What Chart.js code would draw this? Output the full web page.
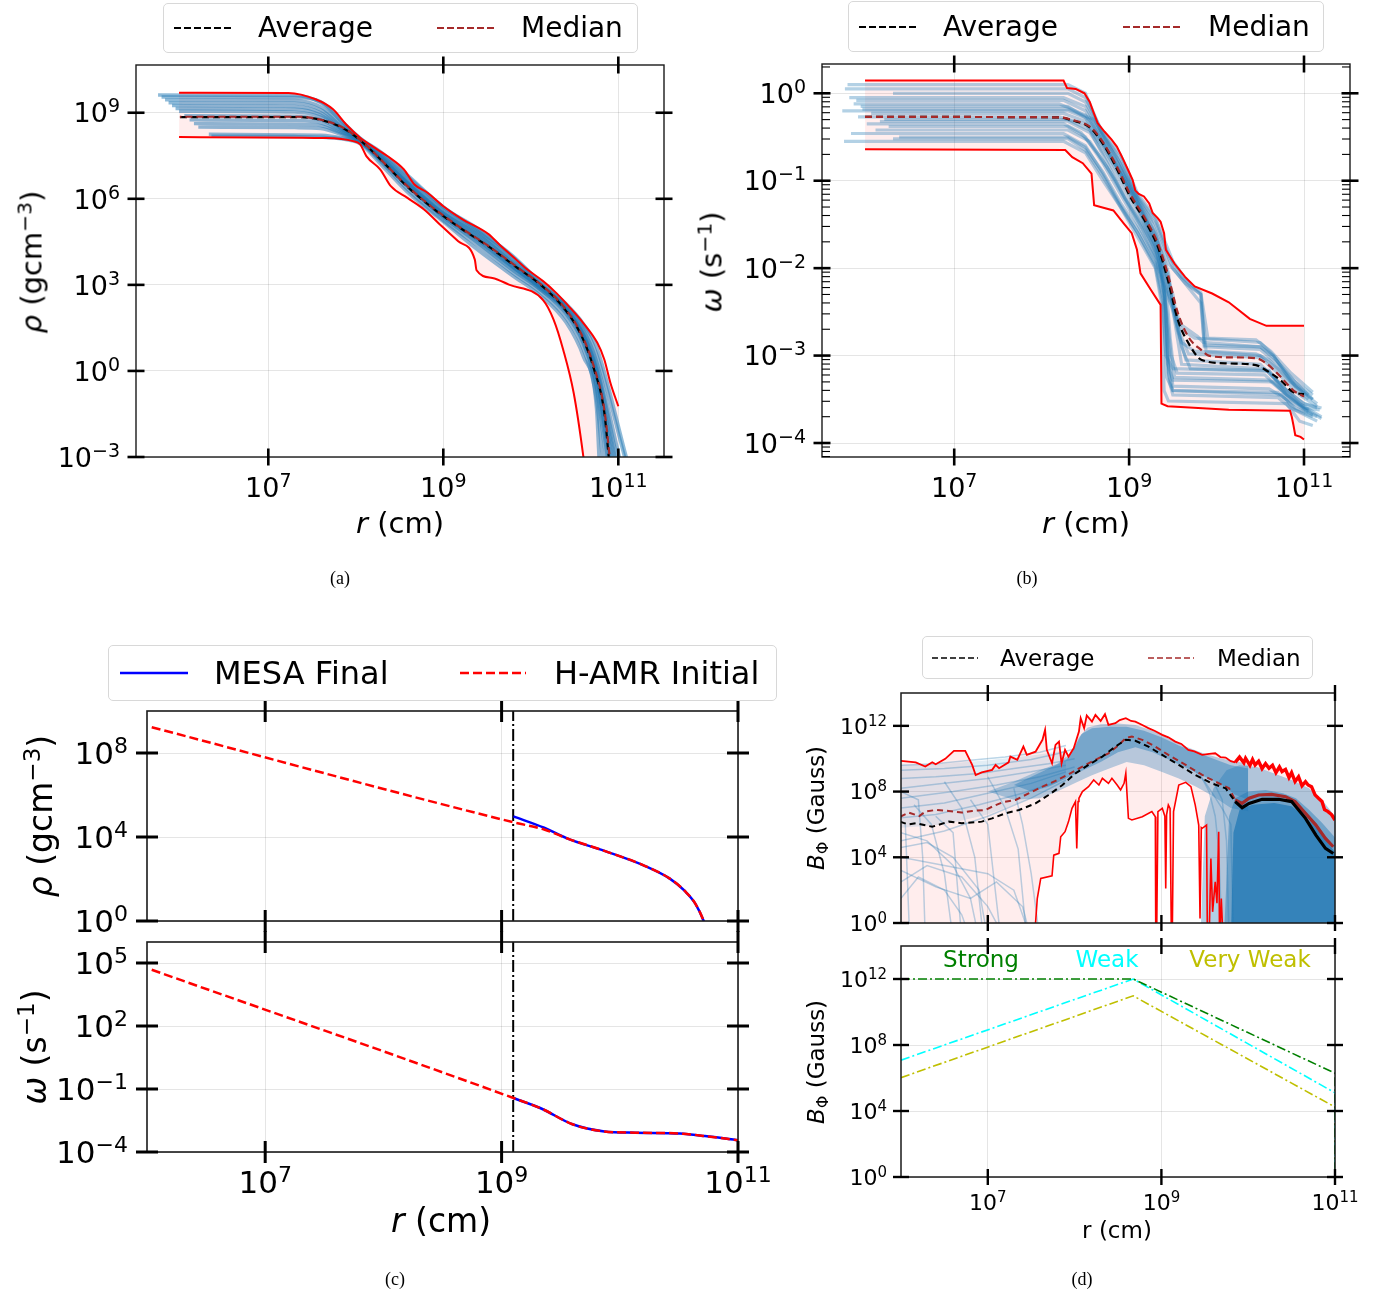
<!DOCTYPE html>
<html>
<head>
<meta charset="utf-8">
<title>Radial profiles</title>
<script src="https://cdn.jsdelivr.net/npm/chart.js@4.4.1/dist/chart.umd.min.js"></script>
<style>
  body { margin: 0; background: #fff; }
  #page { position: relative; width: 1387px; height: 1293px; overflow: hidden; font-family: "DejaVu Sans", sans-serif; color: #000; }
  canvas.layer { position: absolute; left: 0; top: 0; }
  .legend { position: absolute; box-sizing: border-box; border: 1.5px solid #d8d8d8; border-radius: 5px; background: rgba(255,255,255,0.85); z-index: 5; }
  .legend span { position: absolute; top: 50%; transform: translateY(-50%); white-space: nowrap; line-height: 1; }
  .legend svg { position: absolute; top: 50%; transform: translateY(-50%); }
  .lab { position: absolute; white-space: nowrap; line-height: 1; transform: translate(-50%, -50%); z-index: 5; }
  .lab.rot { transform: translate(-50%, -50%) rotate(-90deg); }
  .lab sup { font-size: 0.7em; position: relative; top: -0.5em; vertical-align: baseline; }
  .lab sub { font-size: 0.7em; position: relative; top: 0.25em; vertical-align: baseline; }
</style>
</head>
<body>
<div id="page"></div>
<script>
const W = 1387, H = 1293;
const page = document.getElementById('page');

// all profile values are stored as log10 exponents: [log r, log q]

// ---------- (a) density ----------
const aXTicks = [7, 9, 11];
const aYTicks = [-3, 0, 3, 6, 9];
const aRhoMax = [[5.98,9.70],[7.23,9.69],[7.54,9.47],[7.74,9.12],[7.89,8.59],[8.05,8.13],[8.20,7.81],[8.36,7.49],[8.55,7.02],[8.67,6.50],[8.82,6.21],[9.0,5.74],[9.21,5.30],[9.52,4.76],[9.64,4.41],[9.79,4.0],[9.95,3.56],[10.14,3.13],[10.29,2.72],[10.45,2.20],[10.60,1.67],[10.76,0.98],[10.84,0.40],[10.91,-0.42],[11.0,-1.23]];
const aRhoMin = [[5.98,8.15],[7.66,8.12],[7.97,8.01],[8.05,7.90],[8.12,7.49],[8.28,7.02],[8.40,6.44],[8.59,6.03],[8.78,5.63],[8.98,5.05],[9.17,4.52],[9.36,3.88],[9.38,3.51],[9.56,3.24],[9.75,3.01],[10.14,2.47],[10.26,1.79],[10.37,0.74],[10.49,-0.77],[10.60,-2.98],[10.62,-3.5],[11.0,-4.0]];
const aRhoMed = [[5.99,8.86],[7.35,8.86],[7.66,8.71],[7.89,8.42],[8.12,7.86],[8.36,7.14],[8.59,6.44],[8.86,5.74],[9.17,5.05],[9.52,4.35],[9.83,3.65],[10.14,2.95],[10.37,2.26],[10.57,1.33],[10.72,0.16],[10.84,-1.35],[10.90,-2.98],[10.91,-3.3]];
const aRhoAvg = [[5.99,8.85],[7.35,8.85],[7.66,8.70],[7.89,8.40],[8.12,7.85],[8.36,7.13],[8.59,6.42],[8.86,5.72],[9.17,5.03],[9.52,4.33],[9.83,3.63],[10.14,2.93],[10.37,2.22],[10.57,1.28],[10.72,0.08],[10.84,-1.45],[10.89,-2.98],[10.9,-3.3]];
// individual models: first point, values on a common radius grid, last point
const aBlueStart = [[5.74,9.62],[5.78,9.55],[5.82,9.45],[5.86,9.35],[5.90,9.25],[5.94,9.15],[5.98,9.05],[6.04,8.90],[6.10,8.75],[6.15,8.62],[6.20,8.50],[6.32,8.25],[6.35,8.18]];
const aBlueGrid = [7.3, 7.6, 7.85, 8.05, 8.3, 8.6, 9.0, 9.4, 9.8, 10.1, 10.4, 10.6, 10.75];
const aBlueVals = [
  [9.60, 9.35, 8.65, 8.10, 7.55, 6.75, 5.70, 4.95, 3.95, 3.10, 2.30, 1.60, 0.60],
  [9.53, 9.38, 8.68, 8.12, 7.60, 6.80, 5.72, 4.90, 4.00, 3.12, 2.35, 1.65, 0.85],
  [9.43, 9.20, 8.55, 8.07, 7.50, 6.65, 5.60, 4.85, 3.85, 3.05, 2.25, 1.45, 0.35],
  [9.33, 9.10, 8.50, 8.05, 7.46, 6.60, 5.55, 4.80, 3.80, 3.02, 2.22, 1.38, 0.22],
  [9.22, 9.00, 8.45, 8.04, 7.42, 6.55, 5.50, 4.75, 3.75, 3.00, 2.20, 1.30, 0.10],
  [9.12, 8.92, 8.42, 8.03, 7.40, 6.52, 5.48, 4.70, 3.70, 2.97, 2.17, 1.25, 0.00],
  [9.02, 8.85, 8.40, 8.02, 7.38, 6.50, 5.45, 4.65, 3.65, 2.95, 2.15, 1.20, -0.10],
  [8.88, 8.75, 8.35, 8.01, 7.36, 6.48, 5.42, 4.60, 3.62, 2.92, 2.12, 1.15, -0.20],
  [8.73, 8.65, 8.30, 8.00, 7.34, 6.45, 5.40, 4.55, 3.60, 2.90, 2.10, 1.10, -0.30],
  [8.60, 8.55, 8.26, 7.99, 7.32, 6.42, 5.37, 4.50, 3.55, 2.87, 2.05, 1.02, -0.45],
  [8.48, 8.45, 8.22, 7.98, 7.30, 6.40, 5.35, 4.45, 3.50, 2.85, 2.00, 0.95, -0.60],
  [8.23, 8.22, 8.12, 7.95, 7.25, 6.30, 5.25, 4.35, 3.40, 2.75, 1.85, 0.75, -1.00],
  [8.17, 8.15, 8.08, 7.92, 7.15, 6.20, 5.20, 4.20, 3.30, 2.65, 1.70, 0.50, -1.30]
];
const aBlueEnd = [[11.08,-3.1],[11.10,-3.1],[11.02,-3.1],[10.99,-3.1],[10.97,-3.1],[10.95,-3.1],[10.93,-3.1],[10.91,-3.1],[10.90,-3.1],[10.88,-3.1],[10.86,-3.1],[10.82,-3.1],[10.78,-3.1]];

// ---------- (b) angular velocity ----------
const bXTicks = [7, 9, 11];
const bYTicks = [-4, -3, -2, -1, 0];
const bOmMax = [[5.98,0.145],[8.25,0.145],[8.29,0.06],[8.39,0.05],[8.49,0.0],[8.55,-0.10],[8.59,-0.21],[8.64,-0.34],[8.72,-0.44],[8.80,-0.53],[8.86,-0.61],[8.92,-0.73],[8.99,-0.88],[9.04,-0.99],[9.07,-1.11],[9.11,-1.15],[9.17,-1.18],[9.23,-1.26],[9.27,-1.37],[9.33,-1.43],[9.36,-1.47],[9.40,-1.60],[9.42,-1.79],[9.52,-1.95],[9.64,-2.10],[9.75,-2.21],[9.95,-2.29],[10.14,-2.39],[10.38,-2.58],[10.57,-2.66],[11.0,-2.66]];
const bOmMin = [[5.98,-0.64],[8.27,-0.65],[8.35,-0.73],[8.47,-0.80],[8.57,-0.92],[8.60,-1.28],[8.82,-1.34],[8.94,-1.49],[9.03,-1.60],[9.09,-1.79],[9.13,-2.06],[9.25,-2.25],[9.36,-2.42],[9.37,-3.55],[9.44,-3.58],[10.14,-3.62],[10.84,-3.63],[10.86,-3.70],[10.88,-3.80],[10.90,-3.91],[10.96,-3.93],[11.0,-3.96]];
const bOmMed = [[5.98,-0.27],[8.20,-0.275],[8.35,-0.305],[8.55,-0.38],[8.66,-0.50],[8.78,-0.69],[8.90,-0.92],[9.01,-1.15],[9.17,-1.41],[9.33,-1.72],[9.44,-2.06],[9.56,-2.52],[9.68,-2.79],[9.83,-2.94],[9.91,-3.0],[10.14,-3.02],[10.45,-3.03],[10.57,-3.09],[10.73,-3.24],[10.88,-3.40],[11.0,-3.47]];
const bOmAvg = [[5.98,-0.27],[8.20,-0.275],[8.35,-0.31],[8.55,-0.39],[8.66,-0.52],[8.78,-0.71],[8.90,-0.95],[9.01,-1.18],[9.17,-1.44],[9.33,-1.76],[9.44,-2.12],[9.56,-2.60],[9.68,-2.86],[9.83,-3.05],[10.14,-3.09],[10.45,-3.11],[10.57,-3.17],[10.73,-3.28],[10.88,-3.42],[11.0,-3.44]];
const bBlue = [
  [[5.75,0.05],[8.3,0.05],[8.5,-0.05],[8.7,-0.45],[8.9,-0.7],[9.1,-1.15],[9.3,-1.42],[9.5,-1.92],[9.7,-2.2],[9.82,-2.3],[9.86,-2.9],[10.5,-2.93],[10.7,-3.1],[10.9,-3.3],[11.1,-3.45]],
  [[5.8,-0.05],[8.25,-0.05],[8.5,-0.15],[8.7,-0.5],[8.9,-0.8],[9.1,-1.2],[9.3,-1.5],[9.5,-2.0],[9.7,-2.25],[9.82,-2.4],[9.86,-2.88],[10.5,-2.9],[10.65,-3.0],[10.9,-3.35],[11.15,-3.55]],
  [[5.85,-0.12],[8.2,-0.12],[8.5,-0.25],[8.7,-0.55],[8.9,-0.88],[9.1,-1.25],[9.3,-1.62],[9.45,-2.1],[9.55,-2.7],[9.65,-3.05],[10.5,-3.1],[10.7,-3.3],[10.95,-3.55],[11.2,-3.7]],
  [[5.72,-0.2],[8.3,-0.2],[8.55,-0.3],[8.75,-0.65],[8.95,-1.0],[9.15,-1.4],[9.35,-1.85],[9.42,-2.4],[9.48,-3.0],[9.55,-3.2],[10.55,-3.22],[10.75,-3.4],[11.0,-3.6],[11.2,-3.72]],
  [[5.9,-0.27],[8.2,-0.27],[8.5,-0.35],[8.7,-0.62],[8.9,-0.95],[9.1,-1.32],[9.3,-1.75],[9.4,-2.2],[9.45,-2.9],[9.5,-3.35],[10.6,-3.38],[10.8,-3.5],[11.05,-3.65]],
  [[6.0,-0.35],[8.25,-0.35],[8.45,-0.45],[8.65,-0.7],[8.85,-1.0],[9.05,-1.35],[9.25,-1.7],[9.4,-2.05],[9.5,-2.5],[9.6,-2.85],[9.75,-2.95],[10.5,-3.0],[10.7,-3.15],[10.9,-3.35],[11.1,-3.5]],
  [[6.1,-0.42],[8.3,-0.42],[8.55,-0.55],[8.75,-0.85],[8.95,-1.2],[9.15,-1.5],[9.35,-1.9],[9.42,-2.5],[9.46,-3.3],[9.5,-3.45],[10.7,-3.48],[10.85,-3.6],[11.15,-3.75]],
  [[6.37,-0.5],[8.3,-0.5],[8.5,-0.62],[8.7,-0.9],[8.9,-1.25],[9.1,-1.55],[9.3,-1.9],[9.45,-2.35],[9.6,-2.7],[9.75,-2.8],[10.5,-2.85],[10.65,-3.0],[10.85,-3.3],[11.05,-3.5]],
  [[5.74,-0.55],[8.25,-0.55],[8.5,-0.68],[8.7,-1.0],[8.9,-1.3],[9.1,-1.65],[9.3,-2.0],[9.37,-2.4],[9.4,-3.4],[9.45,-3.52],[10.8,-3.55],[10.95,-3.75],[11.1,-3.8]],
  [[6.3,0.0],[8.3,0.0],[8.5,-0.1],[8.7,-0.48],[8.85,-0.7],[9.05,-1.12],[9.25,-1.45],[9.45,-1.95],[9.65,-2.18],[9.82,-2.3],[9.88,-2.95],[10.45,-2.98],[10.6,-3.05],[10.85,-3.3],[11.05,-3.45]],
  [[5.95,-0.18],[8.3,-0.18],[8.6,-0.3],[8.8,-0.65],[9.0,-1.05],[9.2,-1.45],[9.35,-1.85],[9.5,-2.3],[9.6,-2.9],[9.7,-3.15],[10.6,-3.17],[10.8,-3.45],[11.0,-3.6],[11.18,-3.62]],
  [[6.2,-0.3],[8.3,-0.3],[8.55,-0.42],[8.75,-0.8],[8.95,-1.2],[9.15,-1.55],[9.32,-1.9],[9.4,-2.3],[9.44,-3.1],[9.5,-3.28],[10.65,-3.3],[10.85,-3.5],[11.1,-3.68]],
  [[5.78,0.1],[8.3,0.1],[8.5,0.0],[8.68,-0.43],[8.9,-0.75],[9.1,-1.18],[9.3,-1.45],[9.45,-1.85],[9.6,-2.1],[9.82,-2.28],[9.9,-2.8],[10.45,-2.82],[10.62,-2.95],[10.85,-3.2],[11.1,-3.42]],
  [[5.88,-0.08],[8.25,-0.08],[8.5,-0.2],[8.7,-0.52],[8.9,-0.85],[9.1,-1.22],[9.3,-1.6],[9.45,-2.05],[9.52,-2.6],[9.6,-3.1],[10.55,-3.15],[10.75,-3.35],[11.0,-3.55],[11.2,-3.6]],
  [[5.93,-0.15],[8.3,-0.15],[8.5,-0.28],[8.72,-0.6],[8.92,-0.95],[9.12,-1.3],[9.32,-1.7],[9.42,-2.15],[9.47,-2.8],[9.52,-3.25],[10.6,-3.28],[10.8,-3.45],[11.05,-3.62]],
  [[6.05,-0.23],[8.25,-0.23],[8.5,-0.32],[8.7,-0.6],[8.9,-0.92],[9.1,-1.28],[9.3,-1.68],[9.45,-2.2],[9.58,-2.75],[9.68,-2.98],[10.5,-3.02],[10.7,-3.2],[10.95,-3.45],[11.15,-3.58]],
  [[6.15,-0.32],[8.3,-0.32],[8.55,-0.45],[8.75,-0.75],[8.95,-1.1],[9.15,-1.45],[9.33,-1.85],[9.41,-2.35],[9.45,-3.2],[9.5,-3.4],[10.7,-3.42],[10.9,-3.6],[11.15,-3.7]],
  [[6.25,-0.38],[8.3,-0.38],[8.5,-0.5],[8.7,-0.8],[8.9,-1.15],[9.1,-1.5],[9.3,-1.88],[9.45,-2.3],[9.6,-2.65],[9.78,-2.78],[9.85,-2.85],[10.5,-2.9],[10.68,-3.05],[10.9,-3.3],[11.1,-3.5]],
  [[5.82,-0.46],[8.25,-0.46],[8.5,-0.6],[8.7,-0.92],[8.9,-1.28],[9.1,-1.6],[9.3,-1.95],[9.39,-2.35],[9.43,-3.25],[9.5,-3.4],[10.75,-3.45],[10.9,-3.62],[11.1,-3.7]],
  [[6.3,-0.52],[8.3,-0.52],[8.5,-0.65],[8.7,-0.95],[8.9,-1.3],[9.1,-1.6],[9.3,-1.98],[9.38,-2.38],[9.42,-3.0],[9.5,-3.15],[10.6,-3.18],[10.8,-3.4],[11.0,-3.55],[11.15,-3.6]]
];

// ---------- (c) MESA final vs H-AMR initial ----------
const cXTicks = [7, 9, 11];
const cRhoTicks = [0, 4, 8];
const cOmTicks = [-4, -1, 2, 5];
const cCut = 9.098;
const cRhoInit = [[6.04,9.23],[9.1,4.70],[9.36,4.36],[9.57,3.9],[9.87,3.34],[10.21,2.63],[10.42,2.03],[10.55,1.43],[10.64,0.82],[10.71,0.0],[10.74,-0.5]];
const cRhoMesa = [[9.1,4.98],[9.36,4.44],[9.57,3.9],[9.87,3.34],[10.21,2.63],[10.42,2.03],[10.55,1.43],[10.64,0.82],[10.71,0.0],[10.74,-0.5]];
const cOmInit = [[6.04,4.68],[9.1,-1.43],[9.34,-1.94],[9.6,-2.68],[9.87,-3.02],[10.13,-3.08],[10.51,-3.12],[10.72,-3.24],[11.0,-3.44]];
const cOmMesa = [[9.1,-1.43],[9.34,-1.94],[9.6,-2.68],[9.87,-3.02],[10.13,-3.08],[10.51,-3.12],[10.72,-3.24],[11.0,-3.44]];

// ---------- (d) toroidal field ----------
const dXTicks = [7, 9, 11];
const dYTicks = [0, 4, 8, 12];
const dBMax = [[5.99,9.87],[6.17,9.78],[6.28,9.52],[6.36,9.78],[6.40,9.66],[6.51,9.99],[6.61,10.48],[6.74,10.48],[6.82,9.62],[6.86,9.01],[6.93,9.17],[7.05,9.32],[7.09,9.62],[7.13,9.42],[7.24,9.78],[7.26,10.13],[7.34,9.93],[7.41,10.74],[7.45,10.23],[7.55,10.43],[7.63,11.15],[7.66,11.76],[7.68,10.54],[7.74,9.72],[7.78,10.84],[7.82,11.04],[7.85,9.72],[7.89,10.54],[7.93,10.13],[7.99,10.64],[8.05,11.65],[8.07,12.47],[8.11,11.86],[8.14,12.63],[8.20,12.26],[8.24,12.67],[8.30,12.30],[8.35,12.71],[8.39,12.06],[8.47,12.16],[8.52,12.35],[8.59,12.47],[8.65,12.3],[8.70,12.26],[8.78,12.05],[8.85,11.86],[8.92,11.7],[9.01,11.45],[9.08,11.3],[9.16,11.04],[9.23,10.9],[9.31,10.54],[9.38,10.45],[9.47,10.23],[9.55,10.3],[9.62,10.33],[9.68,10.1],[9.74,10.07],[9.8,9.85],[9.85,9.78],[9.9,10.1],[9.95,9.75],[9.97,10.03],[10.02,9.6],[10.05,9.95],[10.08,9.62],[10.12,9.85],[10.16,9.4],[10.2,9.7],[10.24,9.42],[10.28,9.6],[10.32,9.15],[10.36,9.5],[10.39,9.22],[10.43,9.35],[10.47,8.85],[10.5,9.15],[10.54,8.61],[10.58,8.9],[10.62,8.35],[10.66,8.6],[10.69,8.40],[10.73,8.3],[10.77,7.8],[10.81,7.59],[10.85,7.4],[10.88,6.9],[10.92,6.78],[10.96,6.6],[11.0,6.27]];
const dBMin = [[5.99,-1],[7.54,-1],[7.55,0],[7.57,1.49],[7.61,2.71],[7.74,2.87],[7.76,4.13],[7.82,4.24],[7.84,5.25],[7.89,5.56],[7.93,6.17],[7.97,6.98],[8.01,7.39],[8.025,4.54],[8.04,7.4],[8.05,7.59],[8.09,8.0],[8.16,8.30],[8.22,8.71],[8.28,8.40],[8.32,8.81],[8.39,8.50],[8.43,8.81],[8.49,8.40],[8.53,8.10],[8.57,8.50],[8.59,9.11],[8.62,6.37],[8.66,6.27],[8.78,6.47],[8.89,6.78],[8.93,6.47],[8.935,-1],[8.945,-1],[8.96,6.78],[9.01,6.98],[9.04,6.5],[9.05,2.10],[9.06,6.6],[9.08,7.18],[9.10,6.98],[9.115,-1],[9.125,-1],[9.14,6.78],[9.20,8.40],[9.28,8.56],[9.34,8.30],[9.39,7.18],[9.43,5.96],[9.445,0.27],[9.46,5.8],[9.47,5.76],[9.52,5.96],[9.53,-1],[9.55,-1],[9.57,3.93],[9.59,0.68],[9.62,2.5],[9.64,1.2],[9.66,5.56],[9.67,-1],[9.69,1.49],[9.71,-1],[11.0,-1]];
const dBMed = [[5.99,6.47],[6.09,6.72],[6.21,6.51],[6.28,6.78],[6.40,6.88],[6.55,6.82],[6.70,6.72],[6.82,6.82],[6.97,6.88],[7.05,7.08],[7.17,7.35],[7.32,7.49],[7.47,7.89],[7.63,8.30],[7.78,8.65],[7.93,9.05],[8.09,9.52],[8.24,9.93],[8.39,10.33],[8.51,10.84],[8.59,11.25],[8.66,11.35],[8.78,11.15],[8.93,10.74],[9.08,10.23],[9.28,9.62],[9.47,9.01],[9.62,8.61],[9.78,8.20],[9.85,7.49],[9.93,7.28],[10.01,7.59],[10.12,7.79],[10.27,7.83],[10.43,7.69],[10.54,7.39],[10.66,6.67],[10.78,5.96],[10.89,5.15],[10.98,4.64]];
const dBAvg = [[5.99,6.17],[6.08,6.0],[6.17,6.07],[6.36,5.86],[6.55,6.17],[6.70,6.07],[6.93,6.17],[7.05,6.37],[7.20,6.67],[7.36,6.88],[7.55,7.28],[7.70,7.79],[7.86,8.40],[8.01,9.11],[8.16,9.62],[8.32,10.13],[8.47,10.74],[8.59,11.15],[8.70,11.09],[8.85,10.74],[9.01,10.23],[9.20,9.62],[9.39,9.01],[9.58,8.50],[9.74,8.20],[9.85,7.39],[9.93,7.02],[10.01,7.28],[10.16,7.53],[10.35,7.53],[10.50,7.39],[10.66,6.37],[10.78,5.35],[10.89,4.54],[10.98,4.23]];
// dense bundle of models around the peak (outer and inner extent)
const dBandOutHi = [[7.0,8.0],[7.3,8.6],[7.6,9.3],[7.8,9.7],[7.95,10.3],[8.05,11.3],[8.15,11.9],[8.3,12.1],[8.5,12.15],[8.7,12.05],[8.9,11.7],[9.1,11.2],[9.3,10.7],[9.5,10.3],[9.7,10.0],[9.9,9.8],[10.0,9.6]];
const dBandOutLo = [[7.0,8.0],[7.3,7.5],[7.6,7.6],[7.8,8.0],[8.0,8.5],[8.2,9.0],[8.4,9.4],[8.6,9.8],[8.8,9.6],[9.0,9.2],[9.2,8.8],[9.4,8.3],[9.6,7.7],[9.8,7.0],[10.0,6.8]];
const dBandHi = [[7.3,8.4],[7.5,8.9],[7.7,9.4],[7.9,9.9],[8.0,10.7],[8.08,11.5],[8.2,11.85],[8.4,11.95],[8.6,11.95],[8.8,11.7],[9.0,11.3],[9.2,10.8],[9.4,10.4],[9.6,10.0],[9.8,9.6],[10.0,9.4]];
const dBandLo = [[7.3,8.4],[7.5,8.0],[7.7,8.3],[7.9,8.8],[8.1,9.3],[8.3,9.8],[8.5,10.4],[8.7,10.7],[8.9,10.4],[9.1,9.9],[9.3,9.4],[9.5,8.9],[9.7,8.4],[9.85,7.8],[10.0,7.5]];
// outer region where most models collapse to low field
const dBlockA = [[9.45,-1],[9.5,6.5],[9.6,8.2],[9.75,9.3],[9.9,9.6],[10.1,9.5],[10.3,9.1],[10.5,8.7],[10.7,8.2],[10.85,7.5],[11.0,6.5]];
const dBlockB = [[9.72,-1],[9.78,6.5],[9.85,7.6],[10.0,8.0],[10.2,8.1],[10.4,7.9],[10.55,7.6],[10.7,6.9],[10.85,6.1],[11.0,5.2]];
const dBlockC = [[9.8,-1],[9.83,5.5],[9.9,6.9],[10.05,7.2],[10.3,7.3],[10.5,7.1],[10.65,6.5],[10.8,5.7],[10.9,5.0],[11.0,4.3]];
const dHazeHi = [[6.0,9.6],[6.5,9.7],[7.0,9.9],[7.5,10.2],[7.9,10.5]];
const dHazeLo = [[6.0,5.8],[6.5,6.0],[7.0,6.6],[7.5,7.6],[7.9,8.6]];
const dThin = [
  [[6.0,9.3],[6.5,9.4],[7.0,9.6],[7.5,9.95],[7.8,10.3],[8.0,10.6]],
  [[6.0,8.8],[6.4,8.9],[6.9,9.1],[7.3,9.4],[7.7,9.7],[8.0,10.0]],
  [[6.0,8.2],[6.5,8.5],[7.0,8.8],[7.5,9.2],[7.9,9.6]],
  [[6.0,7.6],[6.6,8.0],[7.1,8.4],[7.6,8.9],[8.0,9.5]],
  [[6.0,7.0],[6.5,7.3],[7.0,7.9],[7.5,8.5],[7.9,9.2]],
  [[6.0,6.4],[6.4,6.6],[6.9,7.2],[7.4,7.9],[7.8,8.6]],
  [[6.0,9.6],[6.4,9.7],[6.8,9.9],[7.2,10.1],[7.6,10.4],[7.9,10.8]],
  [[6.0,5.0],[6.5,5.6],[7.0,6.5],[7.5,7.6],[7.9,8.7]],
  [[6.0,5.5],[6.3,5.0],[6.6,3.5],[6.8,1.5],[6.9,-1]],
  [[6.0,8.0],[6.2,7.5],[6.25,4.0],[6.28,-1]],
  [[6.0,4.0],[6.5,3.5],[7.0,3.0],[7.3,2.0],[7.5,-1]],
  [[6.4,6.5],[6.6,5.5],[6.7,-1]],
  [[6.8,7.5],[7.0,6.0],[7.15,-1]],
  [[6.0,2.5],[6.3,3.5],[6.7,2.8],[7.0,1.0],[7.2,-1]],
  [[6.05,6.0],[6.1,-1]],
  [[7.3,8.2],[7.4,6.0],[7.5,3.0],[7.6,-1]],
  [[6.0,4.6],[6.3,4.9],[6.6,4.0],[6.9,2.0],[7.0,-1]],
  [[6.15,7.2],[6.35,6.0],[6.5,3.0],[6.6,-1]],
  [[6.5,8.6],[6.7,7.0],[6.85,4.0],[6.95,-1]],
  [[7.0,8.9],[7.2,7.0],[7.35,4.5],[7.45,-1]],
  [[6.0,3.2],[6.4,2.2],[6.8,1.5],[7.1,2.5],[7.4,1.0],[7.5,-1]],
  [[6.0,1.5],[6.2,2.8],[6.5,2.0],[6.7,0.5],[6.8,-1]],
  [[9.45,9.0],[9.55,8.0],[9.62,6.5],[9.66,4.5],[9.7,-1]],
  [[9.6,8.6],[9.7,7.5],[9.75,5.0],[9.78,-1]],
  [[9.4,9.2],[9.5,8.6],[9.6,7.8],[9.72,6.8],[9.8,6.0],[9.83,-1]]
];
const dStrong = [[6.0,12.0],[8.675,12.0],[11.0,6.29],[11.0,-1]];
const dWeak = [[6.0,7.08],[8.675,12.0],[11.0,5.10],[11.0,-1]];
const dVeryWeak = [[6.0,6.02],[8.675,10.98],[11.0,4.24],[11.0,-1]];

const PINK = 'rgba(255,0,0,0.07)';
const BROWN = '#a52a2a';
const CLEAR = 'rgba(0,0,0,0)';

const pts = arr => arr.map(p => ({x: Math.pow(10, p[0]), y: Math.pow(10, p[1])}));

function ds(arr, color, width, more) {
  return Object.assign({
    data: pts(arr), borderColor: color, backgroundColor: color, borderWidth: width,
    pointRadius: 0, fill: false, tension: 0, order: 5
  }, more || {});
}

// shaded region between two curves, drawn behind the lines
function band(hi, lo, color, order, more) {
  return [
    ds(hi, CLEAR, 0, Object.assign({fill: '+1', backgroundColor: color, order: order}, more)),
    ds(lo, CLEAR, 0, Object.assign({order: order + 1}, more))
  ];
}

function powLabel(ctx, e, x, y, align, F) {
  const base = '10';
  const sup = e < 0 ? '\u2212' + (-e) : String(e);
  const fs = Math.round(F * 0.7);
  ctx.font = F + 'px "DejaVu Sans"';
  const wb = ctx.measureText(base).width;
  ctx.font = fs + 'px "DejaVu Sans"';
  const ws = ctx.measureText(sup).width;
  const x0 = align === 'right' ? x - wb - ws : x - (wb + ws) / 2;
  ctx.textAlign = 'left';
  ctx.textBaseline = 'alphabetic';
  ctx.fillStyle = '#000';
  ctx.font = F + 'px "DejaVu Sans"';
  ctx.fillText(base, x0, y);
  ctx.font = fs + 'px "DejaVu Sans"';
  ctx.fillText(sup, x0 + wb, y - 0.37 * F);
}

// frame, in-out ticks on all four sides and 10^n labels
function deco(o) {
  return {
    id: 'deco',
    afterDraw(chart) {
      const ctx = chart.ctx, a = chart.chartArea;
      const px = e => chart.scales.x.getPixelForValue(Math.pow(10, e));
      const py = e => chart.scales.y.getPixelForValue(Math.pow(10, e));
      const seg = (x1, y1, x2, y2) => { ctx.beginPath(); ctx.moveTo(x1, y1); ctx.lineTo(x2, y2); ctx.stroke(); };
      ctx.save();
      ctx.strokeStyle = '#1a1a1a';
      ctx.lineWidth = o.frame;
      ctx.strokeRect(a.left, a.top, a.right - a.left, a.bottom - a.top);
      ctx.strokeStyle = '#000';
      ctx.lineWidth = o.tickW;
      const h = o.tick / 2;
      o.xt.forEach(e => { const x = px(e); seg(x, a.top - h, x, a.top + h); seg(x, a.bottom - h, x, a.bottom + h); });
      o.yt.forEach(e => { const y = py(e); seg(a.left - h, y, a.left + h, y); seg(a.right - h, y, a.right + h, y); });
      if (o.minor) {
        ctx.lineWidth = 1.1;
        for (let d = -6; d <= 1; d++) {
          for (let k = 2; k <= 9; k++) {
            const y = py(d + Math.log10(k));
            if (y < a.top || y > a.bottom) continue;
            seg(a.left, y, a.left + 8, y);
            seg(a.right - 8, y, a.right, y);
          }
        }
      }
      if (o.xLab) o.xt.forEach(e => powLabel(ctx, e, px(e), a.bottom + o.xLab, 'center', o.font));
      o.yt.forEach(e => powLabel(ctx, e, a.left - o.yGap, py(e) + 0.36 * o.font, 'right', o.font));
      ctx.restore();
    }
  };
}

function axis(range, ticks) {
  return {
    type: 'logarithmic',
    min: Math.pow(10, range[0]),
    max: Math.pow(10, range[1]),
    afterBuildTicks: s => { s.ticks = ticks.map(e => ({value: Math.pow(10, e)})); },
    afterFit: s => { if (s.isHorizontal()) s.height = 0; else s.width = 0; },
    grid: {color: 'rgba(0,0,0,0.1)', lineWidth: 1, drawTicks: false},
    border: {display: false},
    ticks: {display: false}
  };
}

function panel(box, xr, yr, xt, yt, datasets, look) {
  const cv = document.createElement('canvas');
  cv.width = W; cv.height = H;
  cv.className = 'layer';
  page.appendChild(cv);
  return new Chart(cv, {
    type: 'line',
    data: {datasets},
    options: {
      responsive: false,
      animation: false,
      devicePixelRatio: 1,
      layout: {padding: {left: box[0], top: box[1], right: W - box[2], bottom: H - box[3]}},
      plugins: {legend: {display: false}, tooltip: {enabled: false}, filler: {drawTime: 'beforeDatasetsDraw'}},
      scales: {x: axis(xr, xt), y: axis(yr, yt)}
    },
    plugins: [deco(Object.assign({xt, yt}, look))]
  });
}

function legend(box, fs, items) {
  const d = document.createElement('div');
  d.className = 'legend';
  d.style.cssText += `left:${box[0]}px;top:${box[1]}px;width:${box[2] - box[0]}px;height:${box[3] - box[1]}px;font-size:${fs}px;`;
  items.forEach(it => {
    const w = it.x2 - it.x1;
    d.insertAdjacentHTML('beforeend',
      `<svg style="left:${it.x1 - box[0]}px" width="${w}" height="8"><line x1="0" y1="4" x2="${w}" y2="4" stroke="${it.color}" stroke-width="${it.lw}"${it.dash ? ` stroke-dasharray="${it.dash}"` : ''}/></svg>` +
      `<span style="left:${it.tx - box[0]}px">${it.text}</span>`);
  });
  page.appendChild(d);
}

function label(html, x, y, fs, rot, extra) {
  const d = document.createElement('div');
  d.className = 'lab' + (rot ? ' rot' : '');
  d.innerHTML = html;
  d.style.left = x + 'px';
  d.style.top = y + 'px';
  d.style.fontSize = fs + 'px';
  if (extra) d.style.cssText += extra;
  page.appendChild(d);
}

const smooth = {cubicInterpolationMode: 'monotone'};

// ----- (a) -----
const aModels = aBlueStart.map((s, i) => [s].concat(aBlueGrid.map((x, j) => [x, aBlueVals[i][j]]), [aBlueEnd[i]]));
panel([136, 65, 664, 457], [5.488, 11.522], [-3, 10.664], aXTicks, aYTicks, [
  ds(aRhoMed, BROWN, 2.2, Object.assign({borderDash: [7, 4], borderDashOffset: 5.5, order: 0}, smooth)),
  ds(aRhoAvg, '#000', 2.2, Object.assign({borderDash: [7, 4], order: 1}, smooth)),
  ds(aRhoMax, '#ff0000', 2, Object.assign({order: 2}, smooth)),
  ds(aRhoMin, '#ff0000', 2, Object.assign({order: 2}, smooth)),
  ...aModels.map(m => ds(m, 'rgba(31,119,180,0.5)', 3.4, Object.assign({order: 6}, smooth))),
  ...band(aRhoMax, aRhoMin, PINK, 20, smooth)
], {frame: 1.4, tick: 17, tickW: 2.6, font: 27, yGap: 16, xLab: 40});

// ----- (b) -----
panel([822, 64, 1350, 457], [5.488, 11.526], [-4.16, 0.335], bXTicks, bYTicks, [
  ds(bOmMed, BROWN, 2.2, Object.assign({borderDash: [7, 4], order: 0}, smooth)),
  ds(bOmAvg, '#000', 2.2, Object.assign({borderDash: [7, 4], order: 1}, smooth)),
  ds(bOmMax, '#ff0000', 2, {order: 2}),
  ds(bOmMin, '#ff0000', 2, {order: 2}),
  ...bBlue.map(m => ds(m, 'rgba(31,119,180,0.34)', 3.2, {order: 6})),
  ...band(bOmMax, bOmMin, PINK, 20)
], {frame: 1.4, tick: 17, tickW: 2.6, font: 27, yGap: 16, xLab: 40, minor: true});

// ----- (c) -----
const cLook = {frame: 1.6, tick: 22, tickW: 3, font: 31, yGap: 19};
panel([147, 711, 738, 921], [6, 11], [0, 10], cXTicks, cRhoTicks, [
  ds(cRhoInit, '#ff0000', 2.5, Object.assign({borderDash: [9, 4], order: 0}, smooth)),
  ds(cRhoMesa, '#0000ff', 2.5, Object.assign({order: 1}, smooth)),
  ds([[cCut, 0], [cCut, 10]], '#000', 2, {borderDash: [12, 3, 2, 3], order: 2})
], cLook);
panel([147, 942, 738, 1152], [6, 11], [-4, 6], cXTicks, cOmTicks, [
  ds(cOmInit, '#ff0000', 2.5, Object.assign({borderDash: [9, 4], order: 0}, smooth)),
  ds(cOmMesa, '#0000ff', 2.5, Object.assign({order: 1}, smooth)),
  ds([[cCut, -4], [cCut, 6]], '#000', 2, {borderDash: [12, 3, 2, 3], order: 2})
], Object.assign({xLab: 41}, cLook));

// ----- (d) -----
const NOISY = 6.5e9;
const tailStyle = (dash, w1, w2) => ({
  segment: {
    borderDash: c => c.p0.parsed.x > NOISY ? [] : dash,
    borderWidth: c => c.p0.parsed.x > NOISY ? w2 : w1
  }
});
const dLook = {frame: 1.5, tick: 16, tickW: 2.4, font: 22, yGap: 14};
panel([901, 693, 1335, 923], [6, 11], [0, 14], dXTicks, dYTicks, [
  ds(dBMed, BROWN, 2, Object.assign({borderDash: [6, 4], order: 1}, tailStyle([6, 4], 2, 3.2))),
  ds(dBAvg, '#000', 2, Object.assign({borderDash: [6, 4], order: 0}, tailStyle([6, 4], 2, 3.2))),
  ds(dBMax, '#ff0000', 1.8, Object.assign({order: 2}, tailStyle([], 1.8, 3.4))),
  ds(dBMin, '#ff0000', 1.6, {order: 2}),
  ...dThin.map(m => ds(m, 'rgba(31,119,180,0.3)', 1.5, {order: 6})),
  ...band(dBandHi, dBandLo, 'rgba(31,119,180,0.42)', 10),
  ...band(dBandOutHi, dBandOutLo, 'rgba(31,119,180,0.32)', 12),
  ds(dBlockC, CLEAR, 0, {fill: 'start', backgroundColor: 'rgba(31,119,180,0.72)', order: 14}),
  ds(dBlockB, CLEAR, 0, {fill: 'start', backgroundColor: 'rgba(31,119,180,0.45)', order: 15}),
  ds(dBlockA, CLEAR, 0, {fill: 'start', backgroundColor: 'rgba(31,119,180,0.35)', order: 16}),
  ...band(dHazeHi, dHazeLo, 'rgba(31,119,180,0.13)', 17),
  ...band(dBMax, dBMin, PINK, 20)
], dLook);
panel([901, 946, 1335, 1177], [6, 11], [0, 14], dXTicks, dYTicks, [
  ds(dStrong, '#008000', 1.6, {borderDash: [9, 3, 2, 3], order: 0}),
  ds(dWeak, '#00ffff', 1.6, {borderDash: [9, 3, 2, 3], order: 1}),
  ds(dVeryWeak, '#bfbf00', 1.6, {borderDash: [9, 3, 2, 3], order: 2})
], Object.assign({xLab: 33}, dLook));

// ----- legends, axis titles, captions -----
legend([163, 3, 638, 53], 28, [
  {x1: 173, x2: 233, color: '#000', lw: 2, dash: '7 3', tx: 257, text: 'Average'},
  {x1: 436, x2: 494, color: BROWN, lw: 2, dash: '7 3', tx: 520, text: 'Median'}
]);
legend([848, 1, 1324, 52], 28, [
  {x1: 858, x2: 915, color: '#000', lw: 2, dash: '7 3', tx: 942, text: 'Average'},
  {x1: 1122, x2: 1182, color: BROWN, lw: 2, dash: '7 3', tx: 1207, text: 'Median'}
]);
legend([108, 645, 777, 701], 32, [
  {x1: 119, x2: 187, color: '#0000ff', lw: 2.5, tx: 213, text: 'MESA Final'},
  {x1: 459, x2: 525, color: '#ff0000', lw: 2.5, dash: '9 4', tx: 553, text: 'H-AMR Initial'}
]);
legend([922, 636, 1313, 679], 23, [
  {x1: 931, x2: 977, color: '#000', lw: 1.6, dash: '6 3', tx: 999, text: 'Average'},
  {x1: 1147, x2: 1193, color: BROWN, lw: 1.6, dash: '6 3', tx: 1216, text: 'Median'}
]);

label('<i>\u03c1</i> (gcm<sup>\u22123</sup>)', 32, 262, 29, true);
label('<i>r</i> (cm)', 400, 523, 29);
label('<i>\u03c9</i> (s<sup>\u22121</sup>)', 712, 262, 29, true);
label('<i>r</i> (cm)', 1086, 523, 29);
label('<i>\u03c1</i> (gcm<sup>\u22123</sup>)', 40, 816, 33, true);
label('<i>\u03c9</i> (s<sup>\u22121</sup>)', 34, 1047, 33, true);
label('<i>r</i> (cm)', 441, 1220, 33);
label('<i>B</i><sub>\u03a6</sub> (Gauss)', 816, 808, 23, true);
label('<i>B</i><sub>\u03a6</sub> (Gauss)', 816, 1062, 23, true);
label('r (cm)', 1117, 1230, 23);
label('Strong', 981, 959, 23, false, 'color:#008000;');
label('Weak', 1107, 959, 23, false, 'color:#00ffff;');
label('Very Weak', 1250, 959, 23, false, 'color:#bfbf00;');

const serif = 'font-family:"Liberation Serif","DejaVu Serif",serif;';
label('(a)', 340, 578, 18, false, serif);
label('(b)', 1027, 578, 18, false, serif);
label('(c)', 395, 1279, 18, false, serif);
label('(d)', 1082, 1279, 18, false, serif);
</script>
</body>
</html>
